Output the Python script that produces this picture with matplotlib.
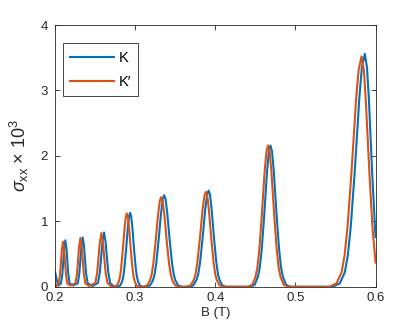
import matplotlib
matplotlib.use("Agg")
import matplotlib.pyplot as plt

plt.rcParams['font.family'] = ['Liberation Sans', 'DejaVu Sans']
plt.rcParams['mathtext.fontset'] = 'custom'
plt.rcParams['mathtext.rm'] = 'Liberation Sans'
plt.rcParams['mathtext.it'] = 'Liberation Sans:italic'

# K valley
b_k = [0.2, 0.2025, 0.2046,
       0.2075, 0.2091, 0.2102, 0.2114, 0.2129, 0.2144, 0.2156, 0.2167, 0.2183,
       0.2225,
       0.2284, 0.2303, 0.2315, 0.2329, 0.2346, 0.2363, 0.2377, 0.2389, 0.2408,
       0.2468,
       0.2536, 0.2559, 0.2574, 0.2591, 0.2612, 0.2633, 0.2650, 0.2665, 0.2688, 0.2734,
       0.2777, 0.2812, 0.2837, 0.2852, 0.2867, 0.2887, 0.2910, 0.2925, 0.2937,
       0.2950, 0.2965, 0.2987, 0.3007, 0.3022, 0.3037, 0.3062, 0.3097,
       0.3138, 0.3187, 0.3222, 0.3243, 0.3264, 0.3292, 0.3324, 0.3345, 0.3362,
       0.3380, 0.3400, 0.3432, 0.3460, 0.3481, 0.3502, 0.3537, 0.3586,
       0.3674, 0.3727, 0.3765, 0.3788, 0.3811, 0.3841, 0.3875, 0.3898, 0.3917,
       0.3934, 0.3954, 0.3985, 0.4012, 0.4033, 0.4053, 0.4087, 0.4135,
       0.4438, 0.4493, 0.4532, 0.4555, 0.4579, 0.4610, 0.4645, 0.4669, 0.4688,
       0.4708, 0.4731, 0.4766, 0.4797, 0.4821, 0.4844, 0.4883, 0.4938,
       0.5466, 0.5554, 0.5616, 0.5654, 0.5691, 0.5741, 0.5797, 0.5829, 0.5866,
       0.5893, 0.5916, 0.5956, 0.5992, 0.6]
s_k = [0.235, 0.09, 0.02,
       0.05, 0.185, 0.355, 0.575, 0.71, 0.575, 0.355, 0.185, 0.05,
       0.02,
       0.053, 0.196, 0.378, 0.612, 0.755, 0.612, 0.378, 0.196, 0.053,
       0.012,
       0.058, 0.216, 0.415, 0.672, 0.83, 0.672, 0.415, 0.216, 0.058, 0.005,
       0.0, 0.017, 0.079, 0.153, 0.294, 0.565, 0.915, 1.083, 1.13,
       1.083, 0.915, 0.565, 0.294, 0.153, 0.079, 0.017, 0.0,
       0.0, 0.021, 0.098, 0.189, 0.364, 0.70, 1.134, 1.341, 1.40,
       1.341, 1.134, 0.70, 0.364, 0.189, 0.098, 0.021, 0.0,
       0.0, 0.022, 0.103, 0.198, 0.382, 0.735, 1.19, 1.408, 1.47,
       1.408, 1.19, 0.735, 0.382, 0.198, 0.103, 0.022, 0.0,
       0.0, 0.032, 0.151, 0.292, 0.562, 1.08, 1.75, 2.07, 2.16,
       2.07, 1.75, 1.08, 0.562, 0.292, 0.151, 0.032, 0.0,
       0.0, 0.053, 0.22, 0.48, 0.926, 1.78, 2.88, 3.35, 3.56,
       3.35, 2.88, 1.78, 0.926, 0.76]

# K' valley
b_kp = [0.2, 0.2025,
        0.2046, 0.2062, 0.2073, 0.2085, 0.2100, 0.2115, 0.2127, 0.2138, 0.2154,
        0.2190,
        0.2255, 0.2274, 0.2286, 0.2300, 0.2317, 0.2334, 0.2348, 0.2360, 0.2379,
        0.2425,
        0.2503, 0.2526, 0.2541, 0.2558, 0.2579, 0.2600, 0.2617, 0.2632, 0.2655, 0.2701,
        0.2736, 0.2771, 0.2796, 0.2811, 0.2826, 0.2846, 0.2869, 0.2884, 0.2896,
        0.2909, 0.2924, 0.2946, 0.2966, 0.2981, 0.2996, 0.3021, 0.3056,
        0.3101, 0.3150, 0.3185, 0.3206, 0.3227, 0.3255, 0.3287, 0.3308, 0.3325,
        0.3343, 0.3364, 0.3395, 0.3423, 0.3444, 0.3465, 0.3500, 0.3549,
        0.3640, 0.3693, 0.3731, 0.3754, 0.3777, 0.3807, 0.3841, 0.3864, 0.3883,
        0.3900, 0.3920, 0.3951, 0.3978, 0.3999, 0.4019, 0.4053, 0.4101,
        0.4408, 0.4463, 0.4502, 0.4525, 0.4549, 0.4580, 0.4615, 0.4639, 0.4658,
        0.4678, 0.4701, 0.4736, 0.4767, 0.4791, 0.4814, 0.4853, 0.4908,
        0.5425, 0.5513, 0.5575, 0.5613, 0.5650, 0.5700, 0.5756, 0.5788, 0.5825,
        0.5854, 0.5878, 0.5922, 0.5961, 0.6]
s_kp = [0.06, 0.01,
        0.048, 0.18, 0.345, 0.559, 0.69, 0.559, 0.345, 0.18, 0.048,
        0.02,
        0.052, 0.194, 0.373, 0.603, 0.745, 0.603, 0.373, 0.194, 0.052,
        0.012,
        0.057, 0.213, 0.41, 0.664, 0.82, 0.664, 0.41, 0.213, 0.057, 0.005,
        0.0, 0.017, 0.078, 0.151, 0.291, 0.56, 0.907, 1.073, 1.12,
        1.073, 0.907, 0.56, 0.291, 0.151, 0.078, 0.017, 0.0,
        0.0, 0.021, 0.096, 0.185, 0.356, 0.685, 1.11, 1.312, 1.37,
        1.312, 1.11, 0.685, 0.356, 0.185, 0.096, 0.021, 0.0,
        0.0, 0.022, 0.102, 0.196, 0.377, 0.725, 1.175, 1.389, 1.45,
        1.389, 1.175, 0.725, 0.377, 0.196, 0.102, 0.022, 0.0,
        0.0, 0.032, 0.151, 0.292, 0.562, 1.08, 1.75, 2.07, 2.16,
        2.07, 1.75, 1.08, 0.562, 0.292, 0.151, 0.032, 0.0,
        0.0, 0.053, 0.22, 0.475, 0.915, 1.76, 2.85, 3.31, 3.52,
        3.31, 2.85, 1.76, 0.915, 0.37]

x_ticks = [0.2, 0.3, 0.4, 0.5, 0.6]
y_ticks = [0, 1, 2, 3, 4]

fig = plt.figure(figsize=(4.15, 3.27), dpi=100)
ax = fig.add_axes([0.1325, 0.123, 0.7725, 0.8005])

ax.plot(b_k, s_k, color='#0072BD', lw=1.5, label='K')
ax.plot(b_kp, s_kp, color='#D95319', lw=1.5, label='K\u2032')

ax.set_xlim(0.2, 0.6)
ax.set_ylim(0, 4)
ax.set_xticks(x_ticks)
ax.set_xticklabels([str(t) for t in x_ticks])
ax.set_yticks(y_ticks)

axc = '0.15'
for sp in ax.spines.values():
    sp.set_color(axc)
    sp.set_linewidth(0.6)
ax.tick_params(direction='in', top=True, right=True, length=3.5, width=0.6,
               color=axc, labelcolor=axc, labelsize=9.5)
ax.tick_params(axis='x', pad=4)
ax.tick_params(axis='y', pad=5)

ax.set_xlabel('B (T)', fontsize=9.5, color=axc, labelpad=2)
ax.set_ylabel(r'$\sigma_{\rm xx}$ $\times$ 10$^{3}$', fontsize=13, color=axc, labelpad=7)

leg = ax.legend(loc='upper left', bbox_to_anchor=(0.025, 0.93), fontsize=10.5,
                handlelength=3.0, handletextpad=0.3, borderpad=0.5, labelspacing=0.7,
                fancybox=False, framealpha=1, borderaxespad=0)
leg.get_frame().set_edgecolor(axc)
leg.get_frame().set_linewidth(0.6)

fig.savefig('out.png', dpi=100)
